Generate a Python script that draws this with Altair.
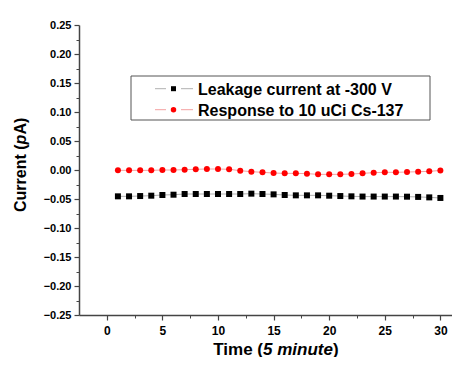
import altair as alt
import pandas as pd

# ---------------- data ----------------
time = [1, 2, 3, 4, 5, 6, 7, 8, 9, 10, 11, 12, 13, 14, 15,
        16, 17, 18, 19, 20, 21, 22, 23, 24, 25, 26, 27, 28, 29, 30]
leakage = [-0.0454, -0.0454, -0.0449, -0.0443, -0.0431, -0.0426, -0.0414, -0.0414, -0.0414, -0.0414,
           -0.0414, -0.0414, -0.0408, -0.0414, -0.0420, -0.0431, -0.0437, -0.0437, -0.0437, -0.0443,
           -0.0449, -0.0454, -0.0458, -0.0458, -0.0458, -0.0458, -0.0460, -0.0464, -0.0472, -0.0482]
response = [-0.0006, -0.0006, -0.0006, -0.0006, 0.0000, 0.0000, 0.0006, 0.0012, 0.0017, 0.0017,
            0.0012, -0.0012, -0.0029, -0.0040, -0.0052, -0.0058, -0.0058, -0.0063, -0.0075, -0.0075,
            -0.0075, -0.0069, -0.0058, -0.0046, -0.0040, -0.0040, -0.0035, -0.0030, -0.0023, -0.0008]
series_names = ["Leakage current at -300 V", "Response to 10 uCi Cs-137"]

x_domain = [-2.5, 31.0]
y_domain = [-0.25, 0.25]
x_ticks = [0, 5, 10, 15, 20, 25, 30]
x_minor = [2.5, 7.5, 12.5, 17.5, 22.5, 27.5]
y_ticks = [-0.25, -0.20, -0.15, -0.10, -0.05, 0.0, 0.05, 0.10, 0.15, 0.20, 0.25]
y_minor = [-0.225, -0.175, -0.125, -0.075, -0.025, 0.025, 0.075, 0.125, 0.175, 0.225]
x_title_parts = ["Time (", "5 minute", ")"]
y_title_parts = ["Current (", "p", "A)"]

FONT = "Liberation Sans"
AX = "#444444"

df = pd.DataFrame({
    "time": time + time,
    "current": leakage + response,
    "series": [series_names[0]] * len(time) + [series_names[1]] * len(time),
})
one = pd.DataFrame({"k": [0]})

xscale = alt.Scale(domain=x_domain, nice=False, zero=False)
yscale = alt.Scale(domain=y_domain, nice=False, zero=False)

xaxis = alt.Axis(values=x_ticks, title="", orient="bottom", grid=False, tickSize=5, tickWidth=1.2,
                 tickColor=AX, domainColor=AX, domainWidth=1.5, labelPadding=5, labelFontSize=12,
                 labelFont=FONT, labelFontWeight="bold", labelColor="black", labelFlush=False,
                 labelOverlap=False)
yaxis = alt.Axis(values=y_ticks, title="", orient="left", grid=False, format=".2f", tickSize=5,
                 tickWidth=1.2, tickColor=AX, domainColor=AX, domainWidth=1.5, labelPadding=3,
                 labelFontSize=11, labelFont=FONT, labelFontWeight="bold", labelColor="black",
                 labelFlush=False, labelOverlap=False)
xminor = alt.Axis(values=x_minor, title="", orient="bottom", grid=False, labels=False, domain=False,
                  tickSize=3, tickWidth=1, tickColor=AX)
yminor = alt.Axis(values=y_minor, title="", orient="left", grid=False, labels=False, domain=False,
                  tickSize=3, tickWidth=1, tickColor=AX)

base = alt.Chart(df)
s0 = alt.datum.series == series_names[0]
s1 = alt.datum.series == series_names[1]

line0 = base.transform_filter(s0).mark_line(color="#b0b0b0", strokeWidth=1).encode(
    x=alt.X("time:Q", scale=xscale, axis=xaxis),
    y=alt.Y("current:Q", scale=yscale, axis=yaxis),
)
line1 = base.transform_filter(s1).mark_line(color="#f4a0a0", strokeWidth=1).encode(
    x=alt.X("time:Q", scale=xscale, axis=None),
    y=alt.Y("current:Q", scale=yscale, axis=None),
)
pts0 = base.transform_filter(s0).mark_point(shape="square", filled=True, size=36, color="black",
                                             opacity=1).encode(
    x=alt.X("time:Q", scale=xscale, axis=None),
    y=alt.Y("current:Q", scale=yscale, axis=None),
)
pts1 = base.transform_filter(s1).mark_point(shape="circle", filled=True, size=36, color="#ff0000",
                                             opacity=1).encode(
    x=alt.X("time:Q", scale=xscale, axis=None),
    y=alt.Y("current:Q", scale=yscale, axis=None),
)
minor = base.mark_point(opacity=0).encode(
    x=alt.X("time:Q", scale=xscale, axis=xminor),
    y=alt.Y("current:Q", scale=yscale, axis=yminor),
)

# ---------- axis titles (mixed italic) ----------
ann = alt.Chart(one)
XT_Y = 329.5
tx = [
    ann.mark_text(text=x_title_parts[0], font=FONT, fontSize=17, fontWeight="bold", align="right",
                  baseline="alphabetic", color="black").encode(x=alt.value(184), y=alt.value(XT_Y)),
    ann.mark_text(text=x_title_parts[1], font=FONT, fontSize=17, fontWeight="bold", fontStyle="italic",
                  align="left", baseline="alphabetic", color="black").encode(x=alt.value(184), y=alt.value(XT_Y)),
    ann.mark_text(text=x_title_parts[2], font=FONT, fontSize=17, fontWeight="bold", align="left",
                  baseline="alphabetic", color="black").encode(x=alt.value(254), y=alt.value(XT_Y)),
]
ty = [
    ann.mark_text(text=y_title_parts[0], font=FONT, fontSize=16, fontWeight="bold", angle=270,
                  align="left", baseline="alphabetic", color="black").encode(x=alt.value(-53.5), y=alt.value(187)),
    ann.mark_text(text=y_title_parts[1], font=FONT, fontSize=16, fontWeight="bold", fontStyle="italic",
                  angle=270, align="left", baseline="alphabetic", color="black").encode(x=alt.value(-53.5), y=alt.value(119.4)),
    ann.mark_text(text=y_title_parts[2], font=FONT, fontSize=16, fontWeight="bold", angle=270,
                  align="left", baseline="alphabetic", color="black").encode(x=alt.value(-53.5), y=alt.value(109.6)),
]

# ---------- legend ----------
box = ann.mark_rect(fill="white", stroke="#555555", strokeWidth=1).encode(
    x=alt.value(52), x2=alt.value(351), y=alt.value(51), y2=alt.value(95))
leg = [box]
rows = [(63.7, 70, "#b0b0b0", "square", "black", 25), (84.7, 91, "#f4a0a0", "circle", "#ff0000", 30)]
for (ym, yt, lc, shp, mc, sz), name in zip(rows, series_names):
    leg.append(ann.mark_rule(color=lc, strokeWidth=1).encode(x=alt.value(76), x2=alt.value(87), y=alt.value(ym)))
    leg.append(ann.mark_rule(color=lc, strokeWidth=1).encode(x=alt.value(102), x2=alt.value(114), y=alt.value(ym)))
    leg.append(ann.mark_point(shape=shp, filled=True, size=sz, color=mc, opacity=1).encode(
        x=alt.value(94.5), y=alt.value(ym)))
    leg.append(ann.mark_text(text=name, font=FONT, fontSize=16, fontWeight="bold", align="left",
                             baseline="alphabetic", color="black").encode(x=alt.value(119), y=alt.value(yt)))

chart = alt.layer(
    line0, line1, pts0, pts1, minor, *tx, *ty, *leg
).resolve_axis(x="independent", y="independent").properties(
    width=372.5, height=290,
    padding={"left": 71, "top": 17, "right": 0, "bottom": 42},
    autosize=alt.AutoSizeParams(type="none"),
    background="white",
).configure_view(stroke="transparent")

chart.save("out.html", embed_options={"renderer": "svg", "actions": False})
